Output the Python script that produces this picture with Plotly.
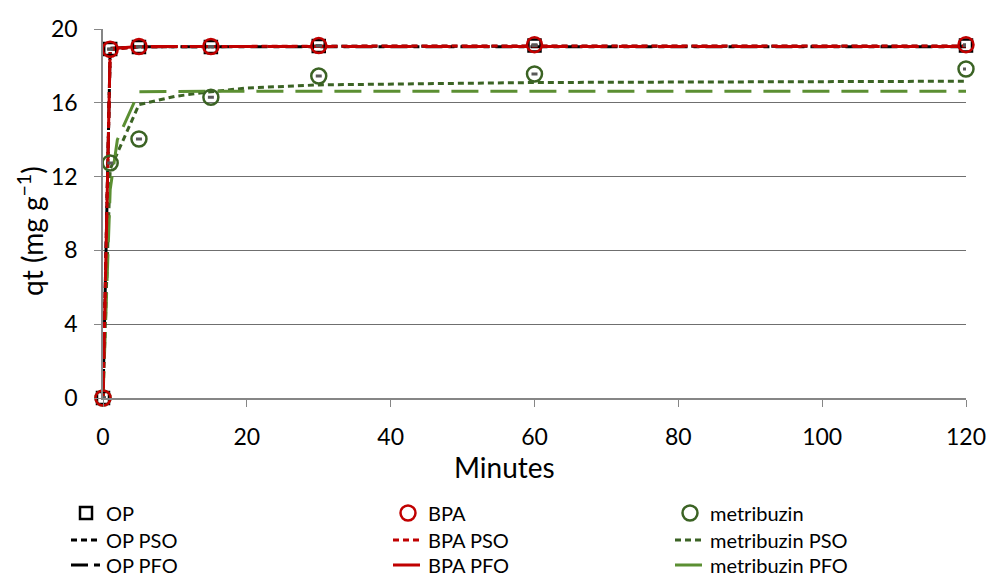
import plotly.graph_objects as go

# ---- data ----
t_obs = [0, 1, 5, 15, 30, 60, 120]
op_obs = [0, 18.92, 19.02, 19.03, 19.08, 19.10, 19.10]
bpa_obs = [0, 18.90, 19.05, 19.05, 19.10, 19.15, 19.15]
met_obs = [0, 12.74, 14.04, 16.30, 17.45, 17.56, 17.83]

t_fit_op = [0, 1, 5, 15, 30, 60, 120]
op_pso = [0, 18.90, 19.03, 19.05, 19.06, 19.06, 19.07]
op_pfo = [0, 18.95, 19.04, 19.04, 19.04, 19.04, 19.04]
bpa_pso = [0, 18.88, 19.04, 19.06, 19.07, 19.08, 19.08]
bpa_pfo = [0, 18.93, 19.05, 19.05, 19.05, 19.05, 19.05]

t_fit_met_pso = [0, 1, 5, 10, 15, 20, 30, 60, 120]
met_pso = [0, 12.40, 15.90, 16.35, 16.60, 16.80, 16.97, 17.10, 17.17]
t_fit_met_pfo = [0, 1, 2, 5, 15, 30, 60, 120]
met_pfo = [0, 11.30, 14.00, 16.60, 16.63, 16.63, 16.63, 16.63]

x_ticks = [0, 20, 40, 60, 80, 100, 120]
y_ticks = [0, 4, 8, 12, 16, 20]

RED = "#C00000"
BLACK = "#000000"
DKG = "#3B6324"
LTG = "#5B8F32"
FONT = "Lato"

PSO_DASH = "6px,4px"
PFO_DASH = "27px,12px"

L, R, T, B = 103, 22, 29, 178
W, H = 988, 576
pw, ph = W - L - R, H - T - B

def px_x(p):
    return (p - L) / pw

def px_y(p):
    return (H - B - p) / ph

# legend slot positions (pixel): columns x, rows y
col_x = {"OP": 66, "BPA": 388, "metribuzin": 670}
row_y = {"": 513, " PSO": 540, " PFO": 565}

fig = go.Figure()
legends = {}

def legend_for(name, group, row):
    key = f"legend{len(legends) + 2}"
    legends[key] = dict(x=px_x(col_x[group]), y=px_y(row_y[row]),
                        xanchor="left", yanchor="middle",
                        font=dict(family=FONT, size=20, color="#000"),
                        bgcolor="rgba(0,0,0,0)")
    return key

def line_trace(x, y, group, row, color, dash):
    name = group + row
    fig.add_trace(go.Scatter(x=x, y=y, mode="lines", name=name,
                             line=dict(color=color, width=3, dash=dash),
                             legend=legend_for(name, group, row), cliponaxis=False))

def marker_trace(x, y, group, color, symbol, size):
    fig.add_trace(go.Scatter(x=x, y=y, mode="markers", name=group,
                             marker=dict(symbol=symbol, size=size, color=color,
                                         line=dict(color=color, width=2.5)),
                             error_y=dict(type="constant", value=0.04, width=3,
                                          thickness=1.5, color="#595959"),
                             legend=legend_for(group, group, ""), cliponaxis=False))

line_trace(t_fit_op, op_pso, "OP", " PSO", BLACK, PSO_DASH)
line_trace(t_fit_op, op_pfo, "OP", " PFO", BLACK, "17px,6px,6px,6px")
line_trace(t_fit_met_pso, met_pso, "metribuzin", " PSO", DKG, PSO_DASH)
line_trace(t_fit_met_pfo, met_pfo, "metribuzin", " PFO", LTG, PFO_DASH)
line_trace(t_fit_op, bpa_pso, "BPA", " PSO", RED, PSO_DASH)
line_trace(t_fit_op, bpa_pfo, "BPA", " PFO", RED, PFO_DASH)

marker_trace(t_obs, op_obs, "OP", BLACK, "square-open", 12)
marker_trace(t_obs, met_obs, "metribuzin", DKG, "circle-open", 15)
marker_trace(t_obs, bpa_obs, "BPA", RED, "circle-open", 15)

fig.update_layout(
    width=W, height=H,
    margin=dict(l=L, r=R, t=T, b=B, autoexpand=False),
    paper_bgcolor="white", plot_bgcolor="white",
    font=dict(family=FONT, size=20, color="#000"),
    xaxis=dict(range=[0, 120], tickvals=x_ticks, ticktext=[str(v) for v in x_ticks],
               showgrid=False, zeroline=False, showline=True, linecolor="#868686",
               linewidth=1.5, ticks="outside", ticklen=7, tickcolor="#868686",
               ticklabelstandoff=11,
               tickfont=dict(family=FONT, size=23)),
    yaxis=dict(range=[0, 20], tickvals=y_ticks, ticktext=[str(v) for v in y_ticks],
               showgrid=True, gridcolor="#6f6f6f", gridwidth=1, zeroline=False,
               showline=True, linecolor="#868686", linewidth=1.5,
               ticks="outside", ticklen=7, tickcolor="#868686",
               ticklabelstandoff=12,
               tickfont=dict(family=FONT, size=23)),
    annotations=[
        dict(text="Minutes", xref="paper", yref="paper", x=px_x(504), y=px_y(467),
             xanchor="center", yanchor="middle", showarrow=False,
             font=dict(family=FONT, size=28)),
        dict(text="qt (mg g<sup>\u22121</sup>)", xref="paper", yref="paper",
             x=px_x(30), y=px_y(231), textangle=-90, xanchor="center",
             yanchor="middle", showarrow=False, font=dict(family=FONT, size=28)),
    ],
)
fig.update_layout(**legends)

fig.write_html("out.html")
